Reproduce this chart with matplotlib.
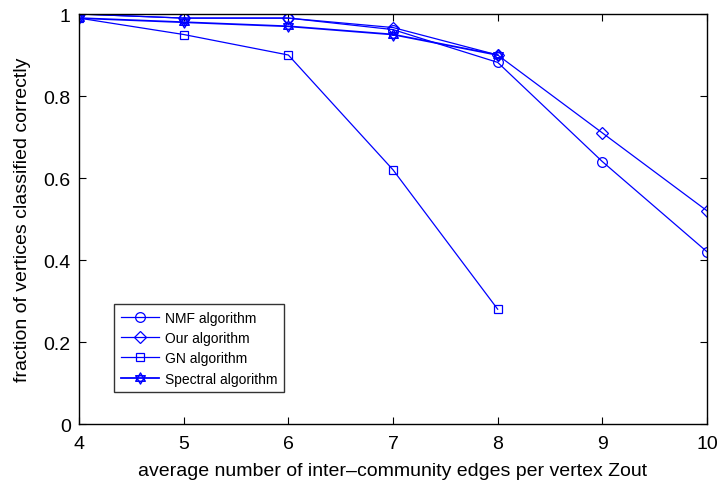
import numpy as np
import matplotlib
matplotlib.use("Agg")
import matplotlib.pyplot as plt
from matplotlib.path import Path

plt.rcParams["font.family"] = ["Liberation Sans", "DejaVu Sans"]

# values
zout = [4, 5, 6, 7, 8, 9, 10]
nmf = [1.0, 0.99, 0.99, 0.962, 0.882, 0.64, 0.42]
ours = [1.0, 0.99, 0.99, 0.967, 0.90, 0.71, 0.52]
zout_short = [4, 5, 6, 7, 8]
gn = [0.99, 0.95, 0.90, 0.62, 0.28]
spectral = [0.99, 0.98, 0.97, 0.95, 0.90]

C_LINE = (0, 0, 1)

# hexagram marker (two overlapping triangles), like MATLAB 'h'
ang_up = np.deg2rad([90, 210, 330, 90])
ang_dn = np.deg2rad([270, 30, 150, 270])
verts = list(zip(np.cos(ang_up), np.sin(ang_up))) + list(zip(np.cos(ang_dn), np.sin(ang_dn)))
codes = [Path.MOVETO, Path.LINETO, Path.LINETO, Path.CLOSEPOLY] * 2
HEX = Path(verts, codes)

fig = plt.figure(figsize=(7.2, 4.81), dpi=100, facecolor="white")
ax = fig.add_axes([0.1097, 0.1164, 0.982 - 0.1097, 0.9688 - 0.1164])

kw = dict(color=C_LINE, linewidth=0.9, markerfacecolor="none",
          markeredgecolor=C_LINE, markeredgewidth=0.9)
ax.plot(zout, nmf, marker="o", markersize=7, label="NMF algorithm", **kw)
ax.plot(zout, ours, marker="D", markersize=6, label="Our algorithm", **kw)
ax.plot(zout_short, gn, marker="s", markersize=6, label="GN algorithm", **kw)
ax.plot(zout_short, spectral, marker=HEX, markersize=8, color=C_LINE,
        linewidth=1.3, markerfacecolor="none", markeredgecolor=C_LINE,
        markeredgewidth=1.0, label="Spectral algorithm")

ax.set_xlim(4, 10)
ax.set_ylim(0, 1)
ax.set_xticks(zout)
ax.set_yticks([0, 0.2, 0.4, 0.6, 0.8, 1.0])
ax.set_yticklabels(["0", "0.2", "0.4", "0.6", "0.8", "1"])
ax.tick_params(axis="both", direction="in", top=True, right=True, labelsize=14,
               length=5, width=0.8)
ax.tick_params(axis="x", pad=8)
ax.tick_params(axis="y", pad=6)
for s in ax.spines.values():
    s.set_linewidth(1.0)

ax.set_xlabel("average number of inter\u2013community edges per vertex Zout",
              fontsize=14, labelpad=7)
ax.set_ylabel("fraction of vertices classified correctly", fontsize=14, labelpad=9)

leg = ax.legend(loc="lower left", bbox_to_anchor=(0.044, 0.06), fontsize=10,
                frameon=True, fancybox=False, edgecolor="black",
                handlelength=2.8, borderpad=0.5, labelspacing=0.45,
                handletextpad=0.4)
leg.get_frame().set_linewidth(1.0)

fig.savefig("out.png", dpi=100, facecolor="white")
